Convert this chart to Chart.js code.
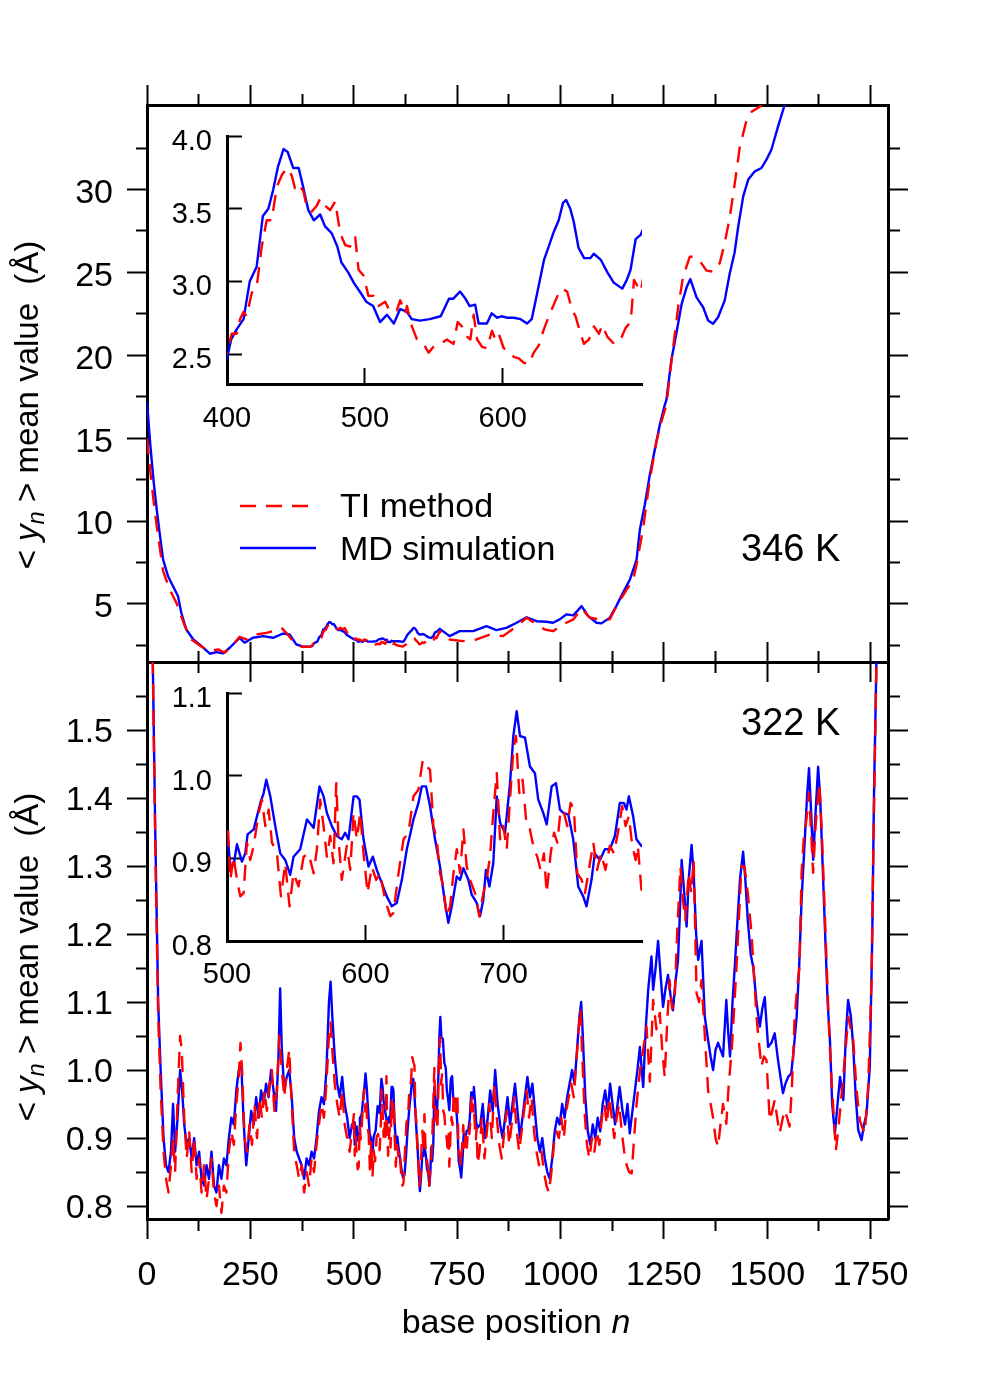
<!DOCTYPE html>
<html>
<head>
<meta charset="utf-8">
<title>Mean value of y_n versus base position</title>
<script src="https://cdn.jsdelivr.net/npm/chart.js@4.4.1/dist/chart.umd.min.js"></script>
<style>
html,body{margin:0;padding:0;background:#ffffff;}
#fig{position:relative;width:981px;height:1379px;overflow:hidden;background:#fff;font-family:"Liberation Sans",Arial,Helvetica,sans-serif;color:#000;}
#fig canvas{position:absolute;left:0;top:0;}
.txt{position:absolute;white-space:nowrap;line-height:1;}
.ytitle{position:absolute;white-space:nowrap;line-height:1;font-size:33px;transform:translate(-50%,-50%) rotate(-90deg);}
.ytitle sub{font-size:0.72em;vertical-align:-0.28em;line-height:0;}
</style>
</head>
<body>
<div id="fig">
  <canvas id="cTop" width="981" height="1379"></canvas>
  <canvas id="cBot" width="981" height="1379"></canvas>
  <canvas id="cTopIn" width="981" height="1379"></canvas>
  <canvas id="cBotIn" width="981" height="1379"></canvas>
  <div class="ytitle" style="left:26px;top:405px;">&lt; <i>y</i><sub><i>n</i></sub> &gt; mean value&nbsp; (Å)</div>
  <div class="ytitle" style="left:26px;top:957px;">&lt; <i>y</i><sub><i>n</i></sub> &gt; mean value&nbsp; (Å)</div>
  <div class="txt" style="left:516px;top:1304px;font-size:34px;transform:translateX(-50%);">base position <i>n</i></div>
  <div class="txt" style="left:340px;top:488px;font-size:34px;">TI method</div>
  <div class="txt" style="left:340px;top:531px;font-size:34px;">MD simulation</div>
  <div class="txt" style="left:741px;top:529px;font-size:38px;">346 K</div>
  <div class="txt" style="left:741px;top:703px;font-size:38px;">322 K</div>
</div>
<script>
// ---------------- DATA ----------------
// 346 K, MD simulation (blue)
const pos346MD = [0,8,16,24,32,39,51,63,75,83,95,112,132,152,168,184,200,224,236,256,281,305,329,345,361,378,394,
 400,403,407,412,416.5,421.5,426,430,433.5,437,441,444,448,452,455,459,463,467.6,471,476,480,483,488,492,497,501,506,511,516,521,525.6,530.5,534,540,547,555,561,564,569,573,576,580,582.5,588.5,592,596,599,603,608,613,617.6,621,625,630,633,637,640.6,643.7,646,649,651.5,655,659,663.6,666,671,676,680.6,686.7,690,692.7,696.4,700,
 708,732,756,789,821,845,869,894,918,942,966,982,998,1014,1031,1051,1067,1087,1099,1119,1135,1151,1168,1184,1192,1204,1216,1228,1240,1252,1256,1268,1280,1293,1305,1314,1329,1345,1357,1369,1381,1397,1409,1421,1430,1442,1454,1470,1486,1498,1510,1526,1542,1560];
const md346 = [17.2,14.6,12.4,10.6,9.0,7.68,6.67,6.07,5.47,4.47,3.46,2.86,2.46,2.0,2.1,2.02,2.36,2.96,2.66,2.96,3.06,2.96,3.22,3.16,2.56,2.42,2.42,
 2.47,2.6,2.67,2.74,3.0,3.1,3.45,3.5,3.63,3.79,3.91,3.89,3.78,3.78,3.66,3.49,3.42,3.46,3.38,3.33,3.24,3.13,3.06,2.99,2.92,2.86,2.83,2.72,2.77,2.71,2.81,2.79,2.74,2.73,2.74,2.76,2.88,2.88,2.93,2.88,2.83,2.84,2.71,2.71,2.78,2.75,2.76,2.75,2.75,2.74,2.71,2.74,2.92,3.15,3.23,3.34,3.42,3.54,3.56,3.5,3.41,3.23,3.16,3.16,3.19,3.15,3.06,2.99,2.95,3.01,3.08,3.29,3.32,
 3.5,3.06,3.36,3.36,3.66,3.42,3.56,3.87,4.2,3.96,3.93,3.87,4.07,4.37,4.31,4.87,4.27,3.87,3.83,4.17,4.87,5.67,6.48,7.68,9.5,11.0,12.8,14.3,15.8,17.0,17.3,19.7,21.3,23.1,24.1,24.6,23.5,22.9,22.1,21.9,22.3,23.3,24.9,26.2,27.8,29.6,30.6,31.1,31.3,31.8,32.4,33.8,35.1,36.5];

// 346 K, TI method (red)
const pos346TI = [0,8,16,24,32,39,55,71,91.5,107.5,132,152,172,188,208,224,240,264,289,305,325,337,353,374,394,
 400,403.4,407,409.4,411.9,414.3,417.9,421.5,425.2,428.8,432.4,436.1,439.7,443.3,446.9,449.3,451.8,455.4,457.9,461.5,465.1,467.6,471.2,474.8,478.5,482.1,485.7,489.3,492.9,495.4,499,502.6,506.3,509.9,514.7,518.4,523.2,525.6,529.3,530.5,534.1,537.8,542.6,546.2,549.8,554.7,559.5,564.3,567.3,570.4,574.1,576.5,578.9,581.4,585,588.6,592.2,594.7,597.1,600.7,604.4,608,611.6,615.3,618.9,622.5,626.1,629.8,633.4,637,640.6,643.1,646.7,650.4,652.8,656.4,658.9,662.5,666.1,669.8,672.2,675.8,680.7,685.5,689.1,692.8,695.2,697.6,700.1,
 708,732,764,797,829,861,894,918,942,962,982,1006,1031,1051,1071,1095,1119,1140,1160,1176,1184,1200,1216,1232,1244,1256,1270,1284.5,1296.5,1312.7,1320.6,1341,1353,1369,1385,1397,1409.5,1421.5,1433.6,1450,1462,1482,1495];
const ti346 = [15.0,13.0,11.2,9.6,8.2,6.98,5.87,5.07,3.66,2.86,2.42,2.16,2.26,2.06,2.56,3.02,2.86,3.16,3.26,3.36,3.56,3.26,2.76,2.42,2.42,
 2.51,2.64,2.64,2.74,2.79,2.76,2.92,2.96,3.24,3.42,3.42,3.65,3.73,3.78,3.73,3.64,3.67,3.62,3.51,3.48,3.52,3.57,3.52,3.49,3.55,3.33,3.25,3.24,3.31,3.08,3.04,2.9,2.9,2.83,2.86,2.79,2.8,2.87,2.78,2.83,2.69,2.6,2.57,2.51,2.55,2.57,2.6,2.57,2.72,2.69,2.62,2.6,2.77,2.6,2.55,2.54,2.66,2.6,2.64,2.54,2.52,2.48,2.47,2.44,2.43,2.51,2.56,2.67,2.76,2.84,2.92,2.95,2.93,2.8,2.76,2.64,2.57,2.6,2.69,2.64,2.7,2.62,2.57,2.6,2.68,2.72,3.01,2.97,2.93,
 3.36,2.86,2.76,2.86,3.16,3.06,3.66,4.17,3.77,3.46,3.36,3.77,4.07,4.71,4.17,4.07,4.07,5.07,5.87,6.48,7.38,9.6,12.5,14.8,16.0,17.0,20.0,22.9,24.75,25.95,25.95,25.55,25.11,25.05,25.55,26.76,28.36,30.37,32.58,34.19,34.69,35.0,35.4];

// 322 K, MD simulation (blue)
const pos322MD = [0,8,14,20,27,33,40,46,52,58,63,68,74,80,85,90,96,102,108,114,120,126,132,138,144,150,156,162,168,174,180,186,192,198,204,210,216,222,228,234,240,246,252,258,264,270,276,282,288,294,300,306,312,318,322,326,332,338,344,350,356,362,368,374,380,386,392,398,404,410,416,422,428,434,440,444,448,454,460,466,472,478,484,490,496,
 500.7,502.4,504.8,507.2,510.8,513.2,514.9,519.3,524.1,526.5,528.4,531.3,534.9,538.5,542.1,545.7,548.1,552.9,557.8,562.6,566.9,569.8,572.2,575.8,579.4,583,585.4,587.8,591.5,593.9,595.8,598.7,602.3,605.4,608.3,611.9,615.5,619.1,622.7,626.4,630,634.8,638.4,640.8,643.9,646.8,650.4,654,657.6,660,662.5,666.1,668.5,670.9,674.5,676.9,680.5,682.9,685.3,687.2,689.7,692.5,695,697.4,701,704.6,707,709.4,711.8,715.4,719,722.6,725,728.6,731.1,734.7,737.8,740.7,743.1,746.7,750.3,753.9,757.5,759.9,763.5,765.9,769.6,773.2,776.8,780.4,784,786.9,788.8,790.5,793.6,796,799.6,
 806,812,818,824,830,836,842,848,854,860,866,872,878,884,890,896,902,908,914,920,926,932,938,944,950,956,962,968,974,980,986,992,998,1004,1010,1016,1022,1028,1034,1040,1046,1050,1054,1060,1066,1072,1078,1084,1090,1096,1102,1108,1114,1120,1126,1132,1138,1143,1150,1156,1162,1167.5,1172,1180,1186,1192,1200,1206,1212,1220,1224,1230,1236,1242,1248,1254,1260,1266,1272,1278,1284,1288,1293,1298,1305,1310,1317,1322,1328,1333,1341,1349,1357,1363,1369,1375,1381,1387,1393,1401,1405,1410,1416,1421.5,1428,1434,1441.6,1447,1453,1460,1466,1474,1482,1488,1494,1502,1510,1518,1526,1532,1538,1544,1550.6,1558,1564,1571,1577,1583,1590,1596,1601,1606,1611,1617,1623,1628,1634,1640,1646,1651.6,1657,1663.6,1670,1676,1684,1690,1695.5,1702,1708,1714,1720,1728,1734,1740,1748,1754,1758,1764,1768];
const md322 = [1.95,1.7,1.6,1.35,1.1,1.0,0.9,0.86,0.85,0.88,0.95,0.88,0.93,1.0,0.97,0.92,0.89,0.9,0.87,0.9,0.86,0.88,0.84,0.83,0.86,0.84,0.88,0.83,0.82,0.86,0.84,0.87,0.86,0.9,0.93,0.92,0.97,1.0,1.01,0.92,0.86,0.9,0.94,0.92,0.96,0.93,0.97,0.95,0.98,0.96,1.0,0.97,0.94,1.02,1.12,1.03,0.97,0.99,1.0,0.96,0.9,0.88,0.87,0.86,0.84,0.87,0.86,0.88,0.87,0.9,0.94,0.96,0.95,1.0,1.1,1.13,1.08,1.02,0.98,0.96,0.99,0.95,0.93,0.9,0.92,
 0.923,0.89,0.892,0.917,0.896,0.906,0.929,0.935,0.967,0.979,0.995,0.975,0.939,0.906,0.898,0.88,0.902,0.911,0.947,0.937,0.987,0.975,0.955,0.939,0.927,0.923,0.931,0.923,0.975,0.975,0.971,0.923,0.89,0.902,0.886,0.87,0.854,0.842,0.846,0.874,0.911,0.947,0.967,0.987,0.987,0.963,0.923,0.89,0.846,0.822,0.842,0.878,0.874,0.888,0.874,0.856,0.846,0.83,0.85,0.886,0.866,0.894,0.975,0.943,0.931,0.991,1.048,1.078,1.048,1.046,1.011,1.003,0.971,0.955,0.941,0.987,0.991,0.959,0.955,0.953,0.923,0.866,0.854,0.842,0.874,0.906,0.898,0.911,0.911,0.927,0.967,0.967,0.959,0.975,0.951,0.923,0.915,
 0.92,0.95,0.9,0.93,0.97,0.94,1.0,0.95,0.92,0.9,0.93,0.96,0.92,0.95,0.98,0.94,0.9,0.93,0.96,0.99,0.96,0.98,0.94,0.9,0.88,0.9,0.87,0.85,0.84,0.87,0.91,0.93,0.92,0.95,0.93,0.96,0.98,1.0,0.98,1.03,1.08,1.1,1.05,0.96,0.91,0.89,0.92,0.9,0.93,0.91,0.95,0.97,0.94,0.98,0.95,0.92,0.95,0.975,0.94,0.92,0.95,0.907,0.93,0.97,1.0,1.034,0.975,1.06,1.118,1.167,1.118,1.15,1.19,1.14,1.093,1.12,1.14,1.11,1.088,1.13,1.16,1.22,1.309,1.27,1.211,1.28,1.331,1.29,1.2,1.162,1.19,1.078,1.044,1.02,1.0,1.03,1.04,1.03,1.02,1.103,1.06,1.02,1.1,1.152,1.22,1.28,1.321,1.28,1.22,1.17,1.152,1.1,1.064,1.09,1.107,1.034,1.04,1.054,1.015,0.99,0.966,0.98,0.99,0.995,1.03,1.078,1.15,1.25,1.33,1.4,1.444,1.38,1.309,1.38,1.446,1.4,1.3,1.2,1.1,1.044,0.95,0.907,0.95,0.99,0.956,1.05,1.103,1.08,1.034,0.96,0.912,0.897,0.92,0.935,1.005,1.2,1.4,1.6,1.75];

// 322 K, TI method (red)
const pos322TI = [0,8,14,20,27,33,40,46,52,58,63,68,74,80,84,90,96,102,108,114,120,126,132,138,144,150,156,162,168,174,180,186,192,198,204,210,216,222,226,230,236,242,248,254,260,266,272,278,284,290,296,302,308,314,320,326,332,338,344,350,356,362,368,374,380,386,392,398,404,410,416,422,428,434,440,444,448,454,460,466,472,478,484,490,496,
 500.7,502.4,504.8,507.2,509.6,512,514.4,516.8,519.3,522.9,525.3,527.7,530.1,532.5,536.1,539,542.1,545.2,548.1,551.7,555.4,559,562.6,565,567.4,569.8,572.2,574.6,577,579,580.6,583,586.6,589.1,591.5,593.9,596.3,598.7,601.6,604.7,607.8,610.7,614.3,618,620.3,624,627.6,631.2,634.8,638.4,641.5,644.4,646.8,649.2,651.6,654,656.4,658.8,661.3,663.7,666.1,668.5,670.9,673.3,675.7,679.3,682.4,685.3,687.7,690.1,692.5,695,697.4,699.8,702.2,704.6,707,708.9,711.3,713.7,716.6,719,721.9,724.3,726.7,729.1,731.1,734,736.4,738.8,741.2,743.6,746,748.4,750.8,753.2,756.4,758.8,761.2,764.8,767.5,770.4,773.6,776.7,779.7,782.6,785.7,788.1,790.5,793,795.4,797,799.6,
 804,810,816,822,828,834,840,846,852,858,864,870,876,882,888,894,900,906,912,918,924,930,936,942,948,954,960,966,972,978,984,990,996,1002,1008,1014,1020,1026,1032,1038,1044,1048,1052,1058,1064,1070,1076,1082,1088,1094,1100,1106,1112,1118,1124,1130,1136,1142,1148,1154,1160,1166,1172,1178,1184,1192,1200,1208,1216,1224,1232,1240,1246,1252,1258,1264,1270,1276,1282,1290,1296,1302,1310,1316,1322,1329,1335,1341,1349,1357,1363,1369,1375,1381,1387,1393,1401,1407,1413.5,1419,1425.6,1432,1437.7,1445,1453,1461.9,1468,1474,1480,1486,1492,1498,1506,1512,1518,1524,1530,1536,1542,1548,1554,1560,1566,1572,1578,1583,1588,1595,1601,1606,1611,1617,1626,1632,1638,1644,1650,1655.6,1661,1666,1673,1680,1688,1696,1702,1708,1716,1724,1730,1736,1744,1752,1756,1760,1764,1768];
const ti322 = [1.95,1.7,1.6,1.33,1.08,0.97,0.88,0.84,0.82,0.86,0.9,0.85,0.96,1.05,1.03,0.93,0.87,0.91,0.85,0.9,0.84,0.87,0.82,0.86,0.81,0.84,0.87,0.82,0.8,0.83,0.79,0.83,0.82,0.88,0.91,0.89,0.95,0.99,1.04,1.0,0.9,0.88,0.92,0.89,0.95,0.9,0.96,0.93,0.97,0.94,0.98,1.0,0.94,0.97,1.05,1.0,0.96,1.0,1.03,0.95,0.88,0.86,0.84,0.86,0.82,0.85,0.83,0.87,0.85,0.89,0.92,0.95,0.93,0.98,1.05,1.07,1.03,0.98,0.95,0.93,0.97,0.92,0.9,0.88,0.91,
 0.937,0.874,0.902,0.874,0.854,0.858,0.919,0.898,0.915,0.955,0.971,0.939,0.959,0.919,0.906,0.854,0.894,0.842,0.882,0.866,0.902,0.906,0.882,0.911,0.971,0.939,0.902,0.927,0.894,0.991,0.923,0.874,0.915,0.886,0.955,0.923,0.955,0.906,0.858,0.89,0.874,0.882,0.85,0.83,0.834,0.882,0.923,0.931,0.975,0.983,1.019,1.011,1.007,0.939,0.923,0.882,0.866,0.83,0.842,0.882,0.911,0.882,0.935,0.89,0.874,0.858,0.83,0.858,0.874,0.902,0.955,1.003,0.923,0.939,0.911,0.971,1.031,1.048,0.979,0.995,0.939,0.935,0.911,0.902,0.886,0.906,0.858,0.906,0.931,0.919,0.959,0.955,0.939,0.967,0.959,0.882,0.874,0.858,0.882,0.919,0.886,0.906,0.886,0.915,0.906,0.931,0.963,0.939,0.951,0.915,0.898,0.915,0.862,
 0.88,0.93,0.87,0.91,0.95,0.9,0.98,0.93,0.89,0.87,0.91,0.94,0.89,0.92,0.96,0.91,0.88,0.91,0.94,0.97,0.93,0.96,0.91,0.88,0.86,0.88,0.85,0.83,0.82,0.85,0.89,0.91,0.9,0.93,0.9,0.94,0.96,0.98,0.96,1.01,1.06,1.09,1.03,0.94,0.89,0.87,0.9,0.88,0.91,0.89,0.93,0.95,0.92,0.96,0.93,0.9,0.93,0.95,0.91,0.88,0.86,0.85,0.848,0.9,0.95,0.998,1.03,1.064,0.983,1.103,1.06,1.084,1.03,0.99,1.07,1.132,1.09,1.103,1.2,1.299,1.25,1.22,1.29,1.26,1.309,1.113,1.1,1.132,1.05,0.97,0.95,0.93,0.9,0.887,0.92,0.95,0.921,0.98,1.025,1.08,1.152,1.23,1.3,1.299,1.26,1.201,1.14,1.078,1.04,1.005,1.02,1.015,0.926,0.94,0.956,0.93,0.907,0.925,0.941,0.93,0.917,0.98,1.073,1.12,1.152,1.29,1.338,1.37,1.407,1.35,1.29,1.36,1.422,1.35,1.25,1.15,1.05,0.985,0.93,0.882,0.92,0.966,1.02,1.078,1.06,1.044,0.97,0.926,0.915,0.907,0.975,1.127,1.3,1.45,1.6,1.75];

// tick values
const xTicksMain = [0,125,250,375,500,625,750,875,1000,1125,1250,1375,1500,1625,1750];
const yTicks346 = [2.5,5,7.5,10,12.5,15,17.5,20,22.5,25,27.5,30,32.5];
const yTicks322 = [0.8,0.85,0.9,0.95,1.0,1.05,1.1,1.15,1.2,1.25,1.3,1.35,1.4,1.45,1.5,1.55];
const xTicksIn346 = [400,500,600];
const yTicksIn346 = [2.5,3.0,3.5,4.0];
const xTicksIn322 = [500,600,700];
const yTicksIn322 = [0.8,0.9,1.0,1.1];
const seriesNames = ['TI method', 'MD simulation'];

// ---------------- STYLE / HELPERS ----------------
const FONT = "'Liberation Sans', Arial, Helvetica, sans-serif";
const RED = '#ff0000', BLUE = '#0000ff';
const DASH = [16, 10];
function pts(xs, ys){ return xs.map((x, i) => ({x: x, y: ys[i]})); }
function isMult(v, step){ const r = v / step; return Math.abs(r - Math.round(r)) < 1e-6; }

function lineDs(label, xs, ys, color, dash){
  return {label: label, data: pts(xs, ys), borderColor: color, backgroundColor: color,
    borderWidth: 2.4, borderDash: dash, pointRadius: 0, pointHoverRadius: 0, fill: false, tension: 0};
}

// p: pos, min, max, ticks, major, tl (negative = inward), minor, labels, fmt, size, pad, font, lo
function mkAxis(p){
  const farFirst = (p.pos === 'top' || p.pos === 'left');
  const L = Math.abs(p.tl);
  const minor = p.minor || 0;
  const isMajor = v => isMult(v, p.major);
  let dashMinor, offMinor;
  if (farFirst) { dashMinor = [100, Math.max(0, L - 1 - minor)]; offMinor = 100; }
  else { dashMinor = [p.tl < 0 ? minor + 3 : minor, 100]; offMinor = 0; }
  return {
    type: 'linear', position: p.pos, min: p.min, max: p.max,
    afterFit: s => { if (s.isHorizontal()) s.height = p.size; else s.width = p.size; },
    afterBuildTicks: s => { s.ticks = p.ticks.map(v => ({value: v})); },
    ticks: {
      autoSkip: false, maxRotation: 0, minRotation: 0, includeBounds: false,
      display: !!p.labels, padding: p.pad || 0, labelOffset: p.lo || 0,
      font: {family: FONT, size: p.font || 34}, color: '#000',
      callback: v => (p.labels && isMajor(v)) ? p.fmt(v) : ''
    },
    grid: {
      display: true, drawOnChartArea: false, drawTicks: true, tickLength: p.tl, tickWidth: 2,
      color: '#000', tickColor: '#000',
      tickBorderDash: c => (c.tick && !isMajor(c.tick.value)) ? dashMinor : [],
      tickBorderDashOffset: c => (c.tick && !isMajor(c.tick.value)) ? offMinor : 0
    },
    border: {display: true, width: 3, color: '#000'}
  };
}

const common = {
  responsive: false, animation: false, devicePixelRatio: 1,
  events: [],
  plugins: {legend: {display: false}, tooltip: {enabled: false}, title: {display: false}},
  elements: {line: {borderCapStyle: 'butt', borderJoinStyle: 'round'}}
};

const legendSamples = {
  id: 'legendSamples',
  afterDatasetsDraw(chart){
    const ctx = chart.ctx;
    const ys = [506, 548];
    chart.data.datasets.forEach((ds, i) => {
      ctx.save();
      ctx.strokeStyle = ds.borderColor; ctx.lineWidth = ds.borderWidth;
      ctx.setLineDash(ds.borderDash || []);
      ctx.beginPath(); ctx.moveTo(240, ys[i]); ctx.lineTo(316, ys[i]); ctx.stroke();
      ctx.restore();
    });
  }
};

Chart.defaults.font.family = FONT;
Chart.defaults.color = '#000';

// ---------------- TOP MAIN (346 K) ----------------
new Chart(document.getElementById('cTop'), {
  type: 'line',
  data: {datasets: [
    lineDs(seriesNames[0], pos346TI, ti346, RED, DASH),
    lineDs(seriesNames[1], pos346MD, md346, BLUE, [])
  ]},
  options: Object.assign({}, common, {
    layout: {padding: 0},
    scales: {
      x: mkAxis({pos: 'bottom', min: 0, max: 1792, ticks: xTicksMain, major: 250, tl: -20, minor: 10, labels: false, size: 1379 - 662}),
      x2: mkAxis({pos: 'top', min: 0, max: 1792, ticks: xTicksMain, major: 250, tl: 20, minor: 10, labels: false, size: 105}),
      y: mkAxis({pos: 'left', min: 1.5, max: 35.1, ticks: yTicks346, major: 5, tl: 20, minor: 10, labels: true, fmt: v => String(v), size: 147, pad: 14, font: 34, lo: 4}),
      y2: mkAxis({pos: 'right', min: 1.5, max: 35.1, ticks: yTicks346, major: 5, tl: 20, minor: 10, labels: false, size: 981 - 888})
    }
  }),
  plugins: [legendSamples]
});

// ---------------- BOTTOM MAIN (322 K) ----------------
new Chart(document.getElementById('cBot'), {
  type: 'line',
  data: {datasets: [
    lineDs(seriesNames[0], pos322TI, ti322, RED, DASH),
    lineDs(seriesNames[1], pos322MD, md322, BLUE, [])
  ]},
  options: Object.assign({}, common, {
    layout: {padding: 0},
    scales: {
      x: mkAxis({pos: 'bottom', min: 0, max: 1792, ticks: xTicksMain, major: 250, tl: 20, minor: 10, labels: true, fmt: v => String(v), size: 1379 - 1219, pad: 16, font: 34}),
      x2: mkAxis({pos: 'top', min: 0, max: 1792, ticks: xTicksMain, major: 250, tl: -20, minor: 10, labels: false, size: 662}),
      y: mkAxis({pos: 'left', min: 0.781, max: 1.6, ticks: yTicks322, major: 0.1, tl: 20, minor: 10, labels: true, fmt: v => v.toFixed(1), size: 147, pad: 14, font: 34, lo: 3}),
      y2: mkAxis({pos: 'right', min: 0.781, max: 1.6, ticks: yTicks322, major: 0.1, tl: 20, minor: 10, labels: false, size: 981 - 888})
    }
  })
});

// ---------------- TOP INSET ----------------
new Chart(document.getElementById('cTopIn'), {
  type: 'line',
  data: {datasets: [
    lineDs(seriesNames[0], pos346TI, ti346, RED, DASH),
    lineDs(seriesNames[1], pos346MD, md346, BLUE, [])
  ]},
  options: Object.assign({}, common, {
    layout: {padding: {top: 136, right: 981 - 642, left: 0, bottom: 0}},
    scales: {
      x: mkAxis({pos: 'bottom', min: 400, max: 701, ticks: xTicksIn346, major: 100, tl: -16, labels: true, fmt: v => String(v), size: 1379 - 384, pad: 34, font: 29}),
      y: mkAxis({pos: 'left', min: 2.294, max: 4.0, ticks: yTicksIn346, major: 0.5, tl: -15, labels: true, fmt: v => v.toFixed(1), size: 227, pad: 30, font: 29, lo: 6})
    }
  })
});

// ---------------- BOTTOM INSET ----------------
new Chart(document.getElementById('cBotIn'), {
  type: 'line',
  data: {datasets: [
    lineDs(seriesNames[0], pos322TI, ti322, RED, DASH),
    lineDs(seriesNames[1], pos322MD, md322, BLUE, [])
  ]},
  options: Object.assign({}, common, {
    layout: {padding: {top: 693, right: 981 - 642, left: 0, bottom: 0}},
    scales: {
      x: mkAxis({pos: 'bottom', min: 500, max: 800, ticks: xTicksIn322, major: 100, tl: -16, labels: true, fmt: v => String(v), size: 1379 - 941, pad: 33, font: 29}),
      y: mkAxis({pos: 'left', min: 0.8, max: 1.1, ticks: yTicksIn322, major: 0.1, tl: -15, labels: true, fmt: v => v.toFixed(1), size: 227, pad: 30, font: 29, lo: 6})
    }
  })
});
</script>
</body>
</html>
